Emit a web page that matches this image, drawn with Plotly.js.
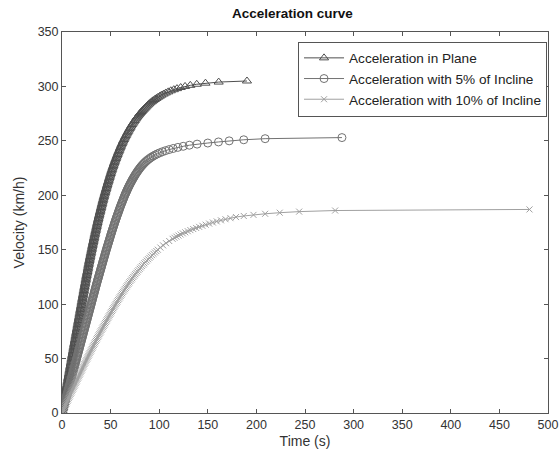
<!DOCTYPE html>
<html>
<head>
<meta charset="utf-8">
<script src="https://cdn.plot.ly/plotly-3.0.1.min.js"></script>
<style>html,body{margin:0;padding:0;background:#fff;}#chart{width:560px;height:462px;}</style>
</head>
<body>
<div id="chart"></div>
<script>
// Series names
const seriesNames = ["Acceleration in Plane", "Acceleration with 5% of Incline", "Acceleration with 10% of Incline"];

// Acceleration in plane: time (s) and velocity (km/h)
const planeTime = [
  0,0.25,0.5,0.75,1,1.25,1.5,1.75,2,2.25,2.5,2.75,3,3.25,3.5,3.75,4,4.25,4.5,4.75,
  5,5.25,5.5,5.75,6,6.25,6.5,6.75,7,7.25,7.5,7.75,8,8.25,8.5,8.75,9,9.25,9.5,9.75,
  10,10.25,10.5,10.75,11,11.25,11.5,11.75,12,12.25,12.5,12.75,13,13.25,13.5,13.75,14,14.25,14.5,14.75,
  15,15.25,15.5,15.75,16,16.25,16.5,16.75,17,17.25,17.5,17.75,18,18.25,18.5,18.75,19,19.25,19.5,19.75,
  20,20.25,20.5,20.75,21,21.25,21.5,21.75,22,22.25,22.5,22.75,23,23.25,23.5,23.75,24,24.25,24.5,24.75,
  25,25.28,25.55,25.83,26.1,26.35,26.6,26.85,27.1,27.38,27.65,27.93,28.2,28.48,28.75,29.03,29.3,29.6,29.9,30.2,
  30.5,30.78,31.05,31.33,31.6,31.9,32.2,32.5,32.8,33.1,33.4,33.7,34,34.33,34.65,34.98,35.3,35.6,35.9,36.2,
  36.5,36.83,37.15,37.48,37.8,38.15,38.5,38.85,39.2,39.55,39.9,40.25,40.6,40.95,41.3,41.65,42,42.38,42.75,43.13,
  43.5,43.9,44.3,44.7,45.1,45.5,45.9,46.3,46.7,47.13,47.55,47.98,48.4,48.83,49.25,49.68,50.1,50.55,51,51.45,
  51.9,52.4,52.9,53.4,53.9,54.43,54.95,55.48,56,56.55,57.1,57.65,58.2,58.78,59.35,59.93,60.5,61.13,61.75,62.38,
  63,63.7,64.4,65.1,65.8,66.55,67.3,68.05,68.8,69.63,70.45,71.28,72.1,73.03,73.95,74.88,75.8,
  76.6,77.4,78.3,79.2,80.1,81,82,83,84.1,85.2,86.25,87.3,88.5,89.7,91,92.4,93.9,95.4,97.1,98.8,
  100.6,102.4,104.6,106.8,109.3,111.9,115,118.3,122.1,126.6,132,138.6,147.6,161.2,190.3];
const planeVel = [
  0,1.25,2.5,3.75,5,6.25,7.5,8.75,10,11.25,12.5,13.75,15,16.25,17.5,18.75,20,21.25,22.5,23.75,
  25,26.25,27.5,28.75,30,31.25,32.5,33.75,35,36.25,37.5,38.75,40,41.25,42.5,43.75,45,46.25,47.5,48.75,
  50,51.25,52.5,53.75,55,56.25,57.5,58.75,60,61.25,62.5,63.75,65,66.25,67.5,68.75,70,71.25,72.5,73.75,
  75,76.25,77.5,78.75,80,81.25,82.5,83.75,85,86.25,87.5,88.75,90,91.25,92.5,93.75,95,96.25,97.5,98.75,
  100,101.25,102.5,103.75,105,106.25,107.5,108.75,110,111.25,112.5,113.75,115,116.25,117.5,118.75,120,121.25,122.5,123.75,
  125,126.25,127.5,128.75,130,131.25,132.5,133.75,135,136.25,137.5,138.75,140,141.25,142.5,143.75,145,146.25,147.5,148.75,
  150,151.25,152.5,153.75,155,156.25,157.5,158.75,160,161.25,162.5,163.75,165,166.25,167.5,168.75,170,171.25,172.5,173.75,
  175,176.25,177.5,178.75,180,181.25,182.5,183.75,185,186.25,187.5,188.75,190,191.25,192.5,193.75,195,196.25,197.5,198.75,
  200,201.25,202.5,203.75,205,206.25,207.5,208.75,210,211.25,212.5,213.75,215,216.25,217.5,218.75,220,221.25,222.5,223.75,
  225,226.25,227.5,228.75,230,231.25,232.5,233.75,235,236.25,237.5,238.75,240,241.25,242.5,243.75,245,246.25,247.5,248.75,
  250,251.25,252.5,253.75,255,256.25,257.5,258.75,260,261.25,262.5,263.75,265,266.25,267.5,268.75,270,
  271,272,273,274,275,276,277,278,279,280,281,282,283,284,285,286,287,288,289,290,
  291,292,293,294,295,296,297,298,299,300,301,302,303,304,305];

// Acceleration with 5% of incline
const incline5Time = [
  0,0.375,0.75,1.125,1.5,1.875,2.25,2.625,3,3.375,3.75,4.125,4.5,4.875,5.25,5.625,6,6.375,6.75,7.125,
  7.5,7.875,8.25,8.625,9,9.375,9.75,10.125,10.5,10.875,11.25,11.625,12,12.375,12.75,13.125,13.5,13.875,14.25,14.625,
  15,15.375,15.75,16.125,16.5,16.875,17.25,17.625,18,18.375,18.75,19.125,19.5,19.875,20.25,20.625,21,21.375,21.75,22.125,
  22.5,22.875,23.25,23.625,24,24.375,24.75,25.125,25.5,25.875,26.25,26.625,27,27.375,27.75,28.125,28.5,28.875,29.25,29.625,
  30,30.375,30.75,31.125,31.5,31.875,32.25,32.625,33,33.375,33.75,34.125,34.5,34.875,35.25,35.625,
  36,36.4,36.8,37.2,37.6,38,38.4,38.8,39.2,39.6,40,40.4,40.8,41.2,41.6,42,42.4,42.8,43.2,43.6,
  44,44.4,44.8,45.2,45.6,46.03,46.45,46.88,47.3,47.73,48.15,48.58,49,49.43,49.85,50.28,50.7,51.15,51.6,52.05,
  52.5,52.95,53.4,53.85,54.3,54.78,55.25,55.73,56.2,56.7,57.2,57.7,58.2,58.7,59.2,59.7,60.2,60.75,61.3,61.85,
  62.4,62.95,63.5,64.05,
  64.6,65.1,65.6,66.1,66.6,67.1,67.6,68.15,68.7,69.25,69.8,70.4,71,71.6,72.2,72.85,73.5,74.15,74.8,75.5,
  76.2,76.95,77.7,78.5,79.3,80.15,81,81.95,82.9,83.95,
  85,86.2,87.5,88.9,90.4,92,93.8,95.8,98,100.5,103.3,106.5,110.2,114.4,119.2,124.7,131,139,150,161,172,187,209,288];
const incline5Vel = [
  0,1.25,2.5,3.75,5,6.25,7.5,8.75,10,11.25,12.5,13.75,15,16.25,17.5,18.75,20,21.25,22.5,23.75,
  25,26.25,27.5,28.75,30,31.25,32.5,33.75,35,36.25,37.5,38.75,40,41.25,42.5,43.75,45,46.25,47.5,48.75,
  50,51.25,52.5,53.75,55,56.25,57.5,58.75,60,61.25,62.5,63.75,65,66.25,67.5,68.75,70,71.25,72.5,73.75,
  75,76.25,77.5,78.75,80,81.25,82.5,83.75,85,86.25,87.5,88.75,90,91.25,92.5,93.75,95,96.25,97.5,98.75,
  100,101.25,102.5,103.75,105,106.25,107.5,108.75,110,111.25,112.5,113.75,115,116.25,117.5,118.75,
  120,121.25,122.5,123.75,125,126.25,127.5,128.75,130,131.25,132.5,133.75,135,136.25,137.5,138.75,140,141.25,142.5,143.75,
  145,146.25,147.5,148.75,150,151.25,152.5,153.75,155,156.25,157.5,158.75,160,161.25,162.5,163.75,165,166.25,167.5,168.75,
  170,171.25,172.5,173.75,175,176.25,177.5,178.75,180,181.25,182.5,183.75,185,186.25,187.5,188.75,190,191.25,192.5,193.75,
  195,196.25,197.5,198.75,
  200,201,202,203,204,205,206,207,208,209,210,211,212,213,214,215,216,217,218,219,
  220,221,222,223,224,225,226,227,228,229,
  230,231,232,233,234,235,236,237,238,239,240,241,242,243,244,245,246,247,248,249,250,251,252,253];

// Acceleration with 10% of incline
const incline10Time = [
  0,0.63,1.25,1.88,2.5,3.13,3.75,4.38,5,5.63,6.25,6.88,7.5,8.15,8.8,9.45,10.1,10.75,11.4,12.05,
  12.7,13.35,14,14.65,15.3,15.95,16.6,17.25,17.9,18.55,19.2,19.85,20.5,21.15,21.8,22.45,23.1,23.78,24.45,25.13,
  25.8,26.48,27.15,27.83,28.5,29.2,29.9,30.6,31.3,32,32.7,33.4,34.1,34.83,35.55,36.28,37,37.73,38.45,39.18,
  39.9,40.65,41.4,42.15,42.9,43.65,44.4,45.15,45.9,46.68,47.45,48.23,49,49.78,50.55,51.33,52.1,52.9,53.7,54.5,
  55.3,56.13,56.95,57.78,58.6,59.45,60.3,61.15,62,62.9,63.8,64.7,65.6,66.53,67.45,68.38,69.3,70.3,71.3,72.3,
  73.3,74.38,75.45,76.53,77.6,78.75,79.9,81.05,82.2,83.45,84.7,85.95,87.2,88.55,89.9,91.25,92.6,94.1,95.6,97.1,
  98.6,101.2,104,107,110.3,113.8,115.7,117.7,119.8,122,124.3,126.8,129.4,132.1,135,138,141.1,144.4,147.8,151.4,
  155.2,159.2,163.5,168.2,173.3,179,187,197,209,224,244,281,481];
const incline10Vel = [
  0,1.25,2.5,3.75,5,6.25,7.5,8.75,10,11.25,12.5,13.75,15,16.25,17.5,18.75,20,21.25,22.5,23.75,
  25,26.25,27.5,28.75,30,31.25,32.5,33.75,35,36.25,37.5,38.75,40,41.25,42.5,43.75,45,46.25,47.5,48.75,
  50,51.25,52.5,53.75,55,56.25,57.5,58.75,60,61.25,62.5,63.75,65,66.25,67.5,68.75,70,71.25,72.5,73.75,
  75,76.25,77.5,78.75,80,81.25,82.5,83.75,85,86.25,87.5,88.75,90,91.25,92.5,93.75,95,96.25,97.5,98.75,
  100,101.25,102.5,103.75,105,106.25,107.5,108.75,110,111.25,112.5,113.75,115,116.25,117.5,118.75,120,121.25,122.5,123.75,
  125,126.25,127.5,128.75,130,131.25,132.5,133.75,135,136.25,137.5,138.75,140,141.25,142.5,143.75,145,146.25,147.5,148.75,
  150,152,154,156,158,160,161,162,163,164,165,166,167,168,169,170,171,172,173,174,
  175,176,177,178,179,180,181,182,183,184,185,186,187];

// Axis ticks
const xTicks = [0,50,100,150,200,250,300,350,400,450,500];
const yTicks = [0,50,100,150,200,250,300,350];

const font = "Liberation Sans, Arial, Helvetica, sans-serif";

const traces = [
  {x: planeTime, y: planeVel, name: seriesNames[0], mode: "lines+markers", type: "scatter",
   line: {color: "#4f4f4f", width: 1},
   marker: {symbol: "triangle-up-open", size: 8, color: "#4f4f4f", line: {width: 1}}},
  {x: incline5Time, y: incline5Vel, name: seriesNames[1], mode: "lines+markers", type: "scatter",
   line: {color: "#727272", width: 1},
   marker: {symbol: "circle-open", size: 8, color: "#727272", line: {width: 1}}},
  {x: incline10Time, y: incline10Vel, name: seriesNames[2], mode: "lines+markers", type: "scatter",
   line: {color: "#a0a0a0", width: 1},
   marker: {symbol: "x-thin-open", size: 6, color: "#a0a0a0", line: {width: 1, color: "#a0a0a0"}}}
];

const axisCommon = {
  showgrid: false, zeroline: false, showline: true, linecolor: "#555", linewidth: 1,
  mirror: "ticks", ticks: "inside", ticklen: 4, tickcolor: "#555",
  tickfont: {family: font, size: 12.5, color: "#333"}
};

const layout = {
  width: 560, height: 462,
  paper_bgcolor: "#fff", plot_bgcolor: "#fff",
  margin: {l: 62, r: 12, t: 32, b: 49},
  title: {text: "<b>Acceleration curve</b>", font: {family: font, size: 13.5, color: "#111"}, x: 0.522, xanchor: "center", y: 0.972, yanchor: "middle"},
  xaxis: Object.assign({}, axisCommon, {range: [0, 500], tickvals: xTicks,
    title: {text: "Time (s)", font: {family: font, size: 14, color: "#333"}, standoff: 5}}),
  yaxis: Object.assign({}, axisCommon, {range: [0, 350], tickvals: yTicks,
    title: {text: "Velocity (km/h)", font: {family: font, size: 14, color: "#333"}, standoff: 9}}),
  legend: {x: 0.998, xanchor: "right", y: 0.975, yanchor: "top",
    bordercolor: "#555", borderwidth: 1, bgcolor: "#fff",
    font: {family: font, size: 13.6, color: "#222"}, tracegroupgap: 0, itemwidth: 40},
  showlegend: true
};

Plotly.newPlot("chart", traces, layout, {displayModeBar: false, staticPlot: true});
</script>
</body>
</html>
